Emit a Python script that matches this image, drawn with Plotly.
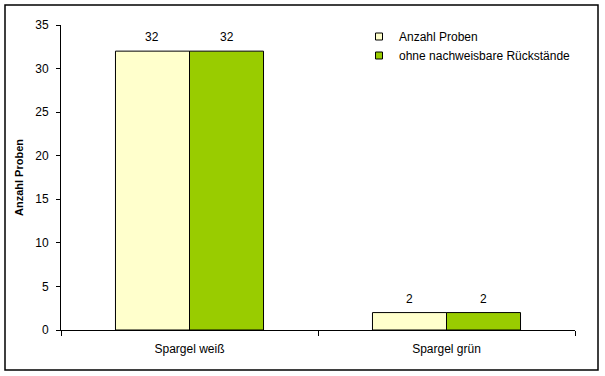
import plotly.graph_objects as go

categories = ["Spargel weiß", "Spargel grün"]
anzahl_proben = [32, 2]
ohne_rueckstaende = [32, 2]
series_names = ["Anzahl Proben", "ohne nachweisbare Rückstände"]
colors = ["#FFFFCC", "#99CC00"]
series_values = [anzahl_proben, ohne_rueckstaende]

W, H = 605, 376
L, R, T, B = 61, 575, 25, 330
BARGAP = 0.424

pw, ph = R - L, B - T
def px(x): return (x - L) / pw
def py(y): return (B - y) / ph

fig = go.Figure()
for name, vals, col in zip(series_names, series_values, colors):
    fig.add_trace(go.Bar(
        x=categories, y=vals, name=name, showlegend=False,
        marker=dict(color=col, line=dict(color="black", width=1)),
    ))
    # legend entry with small square symbol
    fig.add_trace(go.Scatter(
        x=[None], y=[None], mode="markers", name=name,
        marker=dict(symbol="square", size=7, color=col, line=dict(color="black", width=1)),
    ))

# value labels above bars
cat_w = pw / len(categories)
bar_w = cat_w * (1 - BARGAP) / len(series_values)
annotations = []
for si, vals in enumerate(series_values):
    shift = (si - (len(series_values) - 1) / 2) * bar_w
    for c, v in zip(categories, vals):
        annotations.append(dict(x=c, y=v, xref="x", yref="y", text=str(v),
                                showarrow=False, yanchor="bottom", xshift=shift, yshift=5,
                                font=dict(size=12, color="black")))

fig.update_layout(
    width=W, height=H,
    margin=dict(l=L, r=W - R, t=T, b=H - B),
    paper_bgcolor="white", plot_bgcolor="white",
    font=dict(family="Liberation Sans, Arial, sans-serif", size=11, color="black"),
    barmode="group", bargap=BARGAP, bargroupgap=0,
    showlegend=True,
    legend=dict(x=px(359), y=py(22), xanchor="left", yanchor="top",
                bgcolor="rgba(0,0,0,0)", font=dict(size=12),
                itemwidth=30, tracegroupgap=0),
    annotations=annotations,
    xaxis=dict(showline=True, linecolor="black", linewidth=1,
               ticks="outside", tickson="boundaries", ticklen=5, tickcolor="black",
               showgrid=False, tickfont=dict(size=12), ticklabelstandoff=8),
    yaxis=dict(range=[0, 35], dtick=5, showline=True, linecolor="black", linewidth=1,
               ticks="outside", ticklen=4, tickcolor="black", showgrid=False,
               zeroline=False, tickfont=dict(size=12), ticklabelstandoff=5,
               title=dict(text="<b>Anzahl Proben</b>", font=dict(size=11), standoff=9)),
    shapes=[dict(type="rect", xref="paper", yref="paper",
                 x0=px(5), x1=px(598), y0=py(370), y1=py(5),
                 line=dict(color="black", width=1.5), fillcolor="rgba(0,0,0,0)", layer="below")],
)

fig.write_html("out.html", config={"displayModeBar": False},
               post_script="document.body.style.margin='0';")
